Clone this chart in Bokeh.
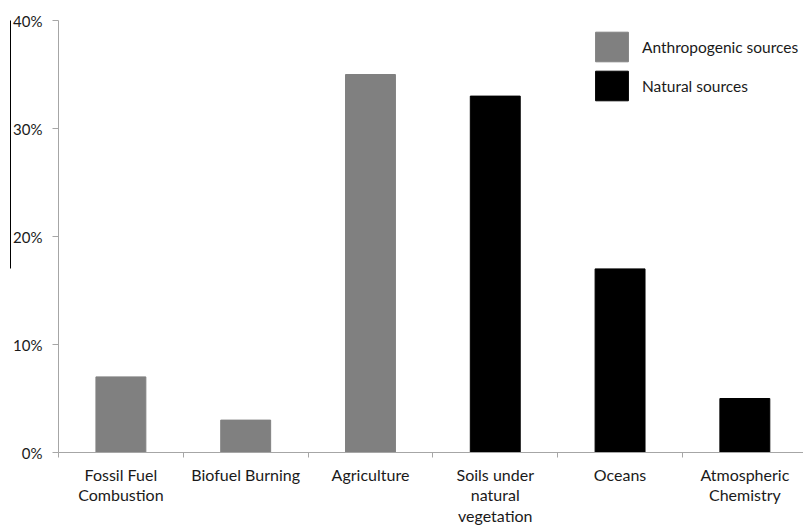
from bokeh.plotting import figure
from bokeh.models import (ColumnDataSource, Range1d, LinearAxis, FixedTicker,
                          PrintfTickFormatter, Legend)
from bokeh.embed import file_html
from bokeh.resources import INLINE

# ---- data ----
categories = ["Fossil Fuel\nCombustion", "Biofuel Burning", "Agriculture",
              "Soils under\nnatural\nvegetation", "Oceans", "Atmospheric\nChemistry"]
values = [7, 3, 35, 33, 17, 5]
source_type = ["Anthropogenic sources", "Anthropogenic sources", "Anthropogenic sources",
               "Natural sources", "Natural sources", "Natural sources"]
y_ticks = [0, 10, 20, 30, 40]

FONT = "Lato"

x_pos = [i + 0.5 for i in range(len(categories))]

def subset(kind):
    idx = [i for i, t in enumerate(source_type) if t == kind]
    return ColumnDataSource(dict(x=[x_pos[i] for i in idx],
                                 top=[values[i] for i in idx]))

p = figure(width=803, height=528, output_backend="svg", toolbar_location=None,
           x_range=Range1d(0, 5.97), y_range=Range1d(0, 40),
           min_border_left=58, min_border_right=0, min_border_top=20,
           min_border_bottom=74, x_axis_location=None, y_axis_location=None)
p.outline_line_color = None
p.grid.visible = False
p.background_fill_color = "white"

r_anth = p.vbar(x="x", top="top", width=0.4, source=subset("Anthropogenic sources"),
                fill_color="#808080", line_color="#808080")
r_nat = p.vbar(x="x", top="top", width=0.4, source=subset("Natural sources"),
               fill_color="#000000", line_color="#000000")

# y axis
yax = LinearAxis(ticker=FixedTicker(ticks=y_ticks),
                 formatter=PrintfTickFormatter(format="%d%%"))
yax.axis_line_color = "#a6a6a6"
yax.major_tick_line_color = "#a6a6a6"
yax.major_tick_out = 6
yax.major_tick_in = 0
yax.minor_tick_line_color = None
yax.major_label_standoff = 10
yax.major_label_text_font = FONT
yax.major_label_text_font_size = "15px"
yax.major_label_text_color = "#1a1a1a"
p.add_layout(yax, "left")

# stray vertical rule at far left (as in the reference image)
p.extra_y_ranges = {"rule": Range1d(0, 40)}
rule = LinearAxis(y_range_name="rule", bounds=(17, 40))
rule.axis_line_color = "black"
rule.axis_line_width = 1
rule.major_tick_line_color = None
rule.minor_tick_line_color = None
rule.major_label_text_font_size = "0px"
rule.major_label_text_color = None
p.add_layout(rule, "left")

# x axis: labels at centres, tick marks at category boundaries
xax = LinearAxis(ticker=FixedTicker(ticks=x_pos,
                                    minor_ticks=list(range(len(categories) + 1))))
xax.major_label_overrides = {x: c for x, c in zip(x_pos, categories)}
xax.axis_line_color = "#a6a6a6"
xax.major_tick_line_color = None
xax.major_tick_out = 0
xax.major_tick_in = 0
xax.minor_tick_line_color = "#a6a6a6"
xax.minor_tick_out = 5
xax.minor_tick_in = 0
xax.major_label_standoff = 7
xax.major_label_text_font = FONT
xax.major_label_text_font_size = "16px"
xax.major_label_text_color = "#1a1a1a"
xax.major_label_text_line_height = 1.1
p.add_layout(xax, "below")

legend = Legend(items=[("Anthropogenic sources", [r_anth]), ("Natural sources", [r_nat])],
                location=(533, 348), orientation="vertical")
legend.glyph_width = 41
legend.glyph_height = 37
legend.spacing = 2
legend.padding = 0
legend.margin = 0
legend.label_standoff = 10
legend.label_text_font = FONT
legend.label_text_font_size = "15.5px"
legend.label_text_color = "#1a1a1a"
legend.border_line_color = None
legend.background_fill_alpha = 0
p.add_layout(legend, "center")

open("out.html", "w").write(file_html(p, INLINE))
